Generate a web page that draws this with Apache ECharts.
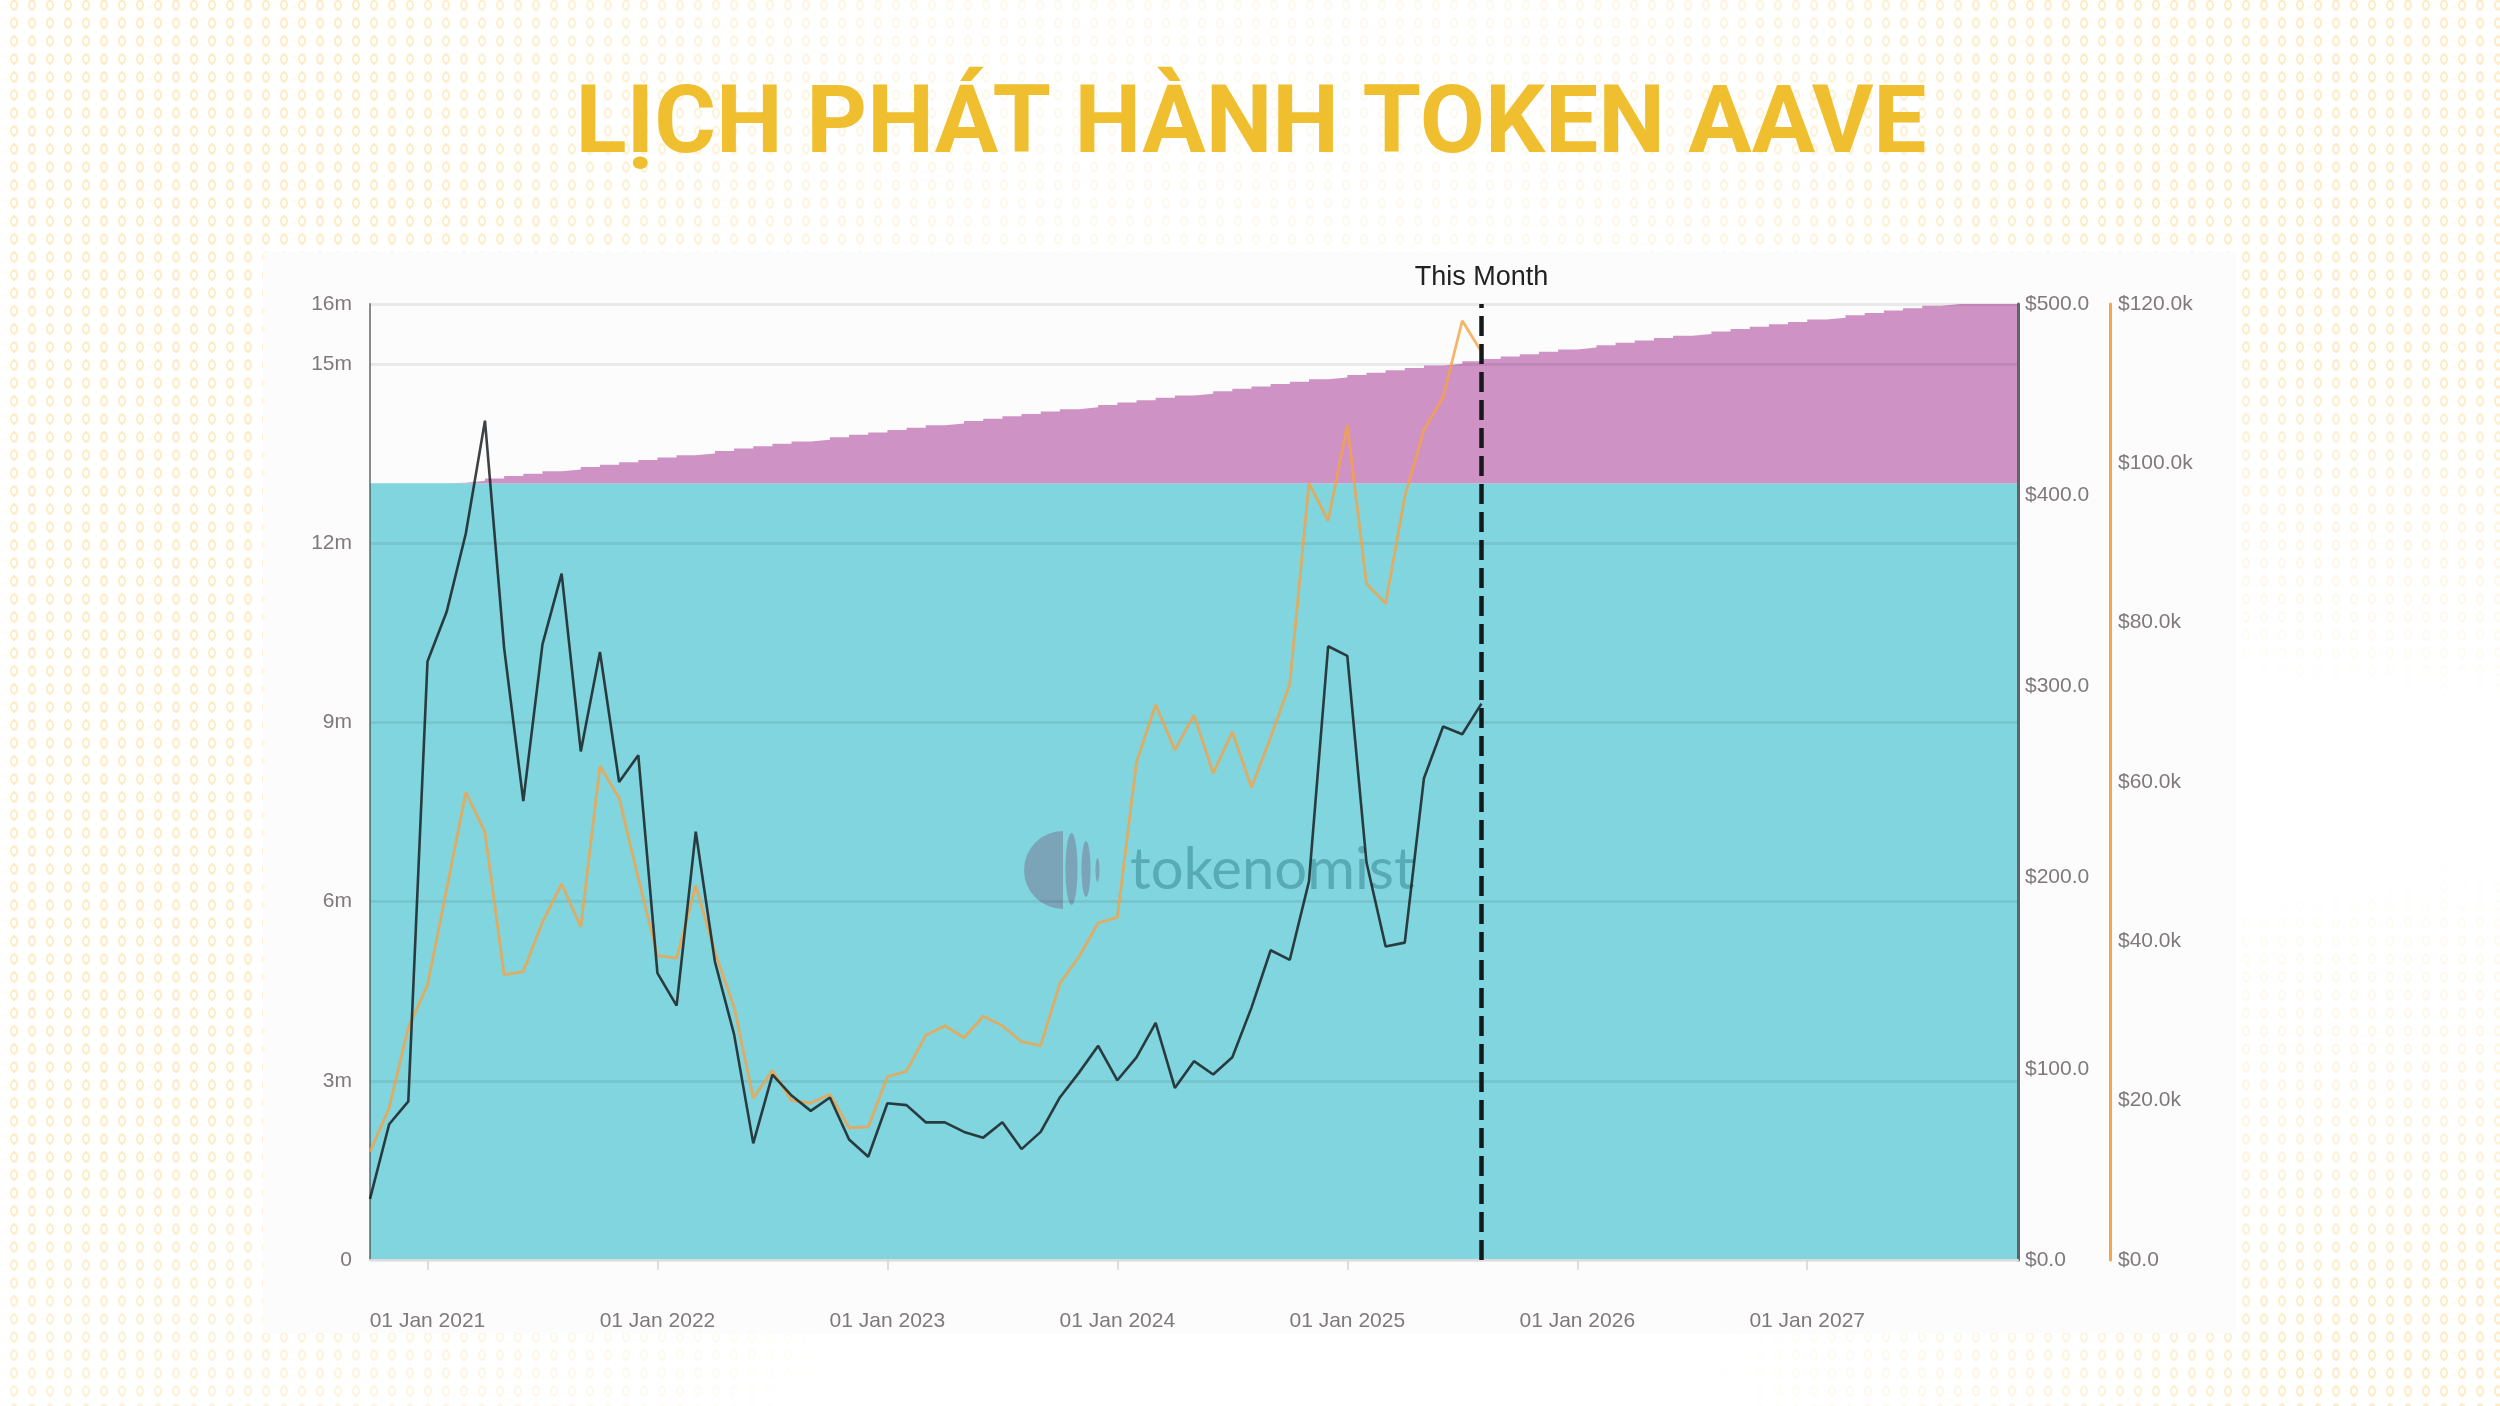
<!DOCTYPE html>
<html>
<head>
<meta charset="utf-8">
<title>Lich phat hanh token AAVE</title>
<script src="https://cdn.jsdelivr.net/npm/echarts@6/dist/echarts.min.js"></script>
<style>
    html, body { margin: 0; padding: 0; background: #fff; }
    #dots {
        position: absolute; left: 0; top: 0; width: 2500px; height: 1406px;
        background-image: radial-gradient(ellipse 4px 6px at center, transparent 48%, #fdeec9 55%, #fdeec9 95%, transparent 100%);
        background-size: 18px 18px;
        background-position: 5px -4px;
        -webkit-mask-image:
            radial-gradient(ellipse 1050px 1500px at 0 500px, #000 45%, transparent 100%),
            radial-gradient(ellipse 1000px 620px at 2500px 100px, #000 45%, transparent 100%),
            radial-gradient(ellipse 800px 560px at 2500px 1406px, #000 25%, transparent 100%),
            linear-gradient(to bottom, rgba(0,0,0,0.3) 0, rgba(0,0,0,0.3) 260px, transparent 300px);
        mask-image:
            radial-gradient(ellipse 1050px 1500px at 0 500px, #000 45%, transparent 100%),
            radial-gradient(ellipse 1000px 620px at 2500px 100px, #000 45%, transparent 100%),
            radial-gradient(ellipse 800px 560px at 2500px 1406px, #000 25%, transparent 100%),
            linear-gradient(to bottom, rgba(0,0,0,0.3) 0, rgba(0,0,0,0.3) 260px, transparent 300px);
    }
    #chart { position: absolute; left: 0; top: 0; width: 2500px; height: 1406px; }
</style>
</head>
<body>
<div id="dots"></div>
<div id="chart"></div>
<script>
    var titleText = 'LỊCH PHÁT HÀNH TOKEN AAVE';

    // one point per month, Oct 2020 .. Dec 2027
    var years = [2021, 2022, 2023, 2024, 2025, 2026, 2027];
    var monthNames = ['Jan','Feb','Mar','Apr','May','Jun','Jul','Aug','Sep','Oct','Nov','Dec'];
    var categories = ['01 Oct 2020', '01 Nov 2020', '01 Dec 2020'];
    years.forEach(function (y) {
        monthNames.forEach(function (m) { categories.push('01 ' + m + ' ' + y); });
    });

    // teal block, million tokens
    var unlockedBase = [
        13,13,13,13,13,13,13,13,13,13,13,13,13,13,13,13,13,13,13,13,13,13,13,13,13,13,13,13,13,
        13,13,13,13,13,13,13,13,13,13,13,13,13,13,13,13,13,13,13,13,13,13,13,13,13,13,13,13,13,
        13,13,13,13,13,13,13,13,13,13,13,13,13,13,13,13,13,13,13,13,13,13,13,13,13,13,13,13,13
    ];
    // pink block on top of it
    var reserveUnlock = [
        0,0,0,0,0.01,0.04,0.08,0.12,0.16,0.20,0.23,0.27,0.31,0.35,0.39,0.43,0.47,0.50,0.54,0.58,
        0.62,0.66,0.70,0.73,0.77,0.81,0.85,0.89,0.93,0.97,1.00,1.04,1.08,1.12,1.16,1.20,1.24,1.27,1.31,1.35,
        1.39,1.43,1.47,1.50,1.54,1.58,1.62,1.66,1.70,1.74,1.77,1.81,1.85,1.89,1.93,1.97,2.00,2.04,2.08,2.12,
        2.16,2.20,2.24,2.27,2.31,2.35,2.39,2.43,2.47,2.50,2.54,2.58,2.62,2.66,2.70,2.74,2.77,2.81,2.85,2.89,
        2.93,2.97,3.00,3.00,3.00,3.00,3.00
    ];
    // AAVE price, $ axis
    var aavePrice = [
        32,71,83,313,339,380,439,320,240,322,359,266,318,250,264,150,133,224,156,118,
        61,97,86,78,85,63,54,82,81,72,72,67,64,72,58,67,85,98,112,94,
        106,124,90,104,97,106,132,162,157,198,321,316,208,164,166,252,279,275,291
    ];
    // BTC price, $k axis
    var btcPrice = [
        13600,19100,29200,34500,46500,58700,53700,35800,36200,42400,47200,41800,62000,58000,47900,38200,37900,47000,38600,31800,
        20300,23800,20000,19700,20800,16600,16700,23000,23700,28200,29400,27900,30600,29400,27400,26900,34700,38100,42300,43000,
        62500,69700,64000,68400,61100,66300,59300,65600,72300,97500,92800,104800,84900,82400,95800,104200,108300,117900,114000
    ];

    var thisMonth = '01 Aug 2025';

    var myChart = echarts.init(document.getElementById('chart'), null, { renderer: 'canvas' });

    var labelStyle = { color: '#7f797b', fontSize: 21, fontFamily: '"Liberation Sans", Arial, sans-serif' };

    function isJanuary(index, value) {
        return value.indexOf(' Jan ') > 0;
    }

    var option = {
        backgroundColor: 'transparent',
        animation: false,
        title: {
            text: titleText,
            left: 1246,
            top: 76,
            textAlign: 'center',
            textStyle: { color: '#f0bf2f', fontSize: 94.5, fontWeight: 'bold', fontFamily: 'Roboto, sans-serif' }
        },
        grid: { left: 370, right: 482, top: 304, bottom: 146 },
        xAxis: {
            type: 'category',
            data: categories,
            boundaryGap: false,
            axisLine: { lineStyle: { color: '#dcdcdc', width: 2 } },
            axisTick: { interval: isJanuary, length: 10, lineStyle: { color: '#d4d4d4', width: 1.5 } },
            axisLabel: Object.assign({ interval: isJanuary, margin: 51 }, labelStyle),
            z: 3
        },
        yAxis: [{
            type: 'value',
            min: 0,
            max: 16,
            interval: 3,
            z: 3,
            axisLine: { show: true, lineStyle: { color: 'rgba(70,80,85,0.65)', width: 2 } },
            axisTick: { show: false },
            splitLine: { show: true, lineStyle: { color: 'rgba(0,0,0,0.075)', width: 3 } },
            axisLabel: Object.assign({
                margin: 18,
                padding: [0, 0, 2, 0],
                formatter: function (v) { return v === 0 ? '0' : v + 'm'; }
            }, labelStyle)
        }, {
            type: 'value',
            position: 'right',
            min: 0,
            max: 500,
            interval: 100,
            z: 3,
            axisLine: { show: true, lineStyle: { color: '#5f6468', width: 3 } },
            axisTick: { show: false },
            splitLine: { show: false },
            axisLabel: Object.assign({
                margin: 7,
                padding: [0, 0, 2, 0],
                formatter: function (v) { return '$' + v.toFixed(1); }
            }, labelStyle)
        }, {
            type: 'value',
            position: 'right',
            offset: 92,
            min: 0,
            max: 120000,
            interval: 20000,
            z: 3,
            axisLine: { show: true, lineStyle: { color: '#f4a64a', width: 3 } },
            axisTick: { show: false },
            splitLine: { show: false },
            axisLabel: Object.assign({
                margin: 8,
                padding: [0, 0, 2, 0],
                formatter: function (v) { return v === 0 ? '$0.0' : '$' + (v / 1000).toFixed(1) + 'k'; }
            }, labelStyle)
        }],
        graphic: [
            { type: 'rect', z: -1, silent: true, shape: { x: 263, y: 252, width: 1973, height: 1081 }, style: { fill: '#fcfcfc' } },
            { type: 'sector', z: 3, silent: true, shape: { cx: 1063, cy: 870, r: 39, r0: 0, startAngle: Math.PI / 2, endAngle: Math.PI * 1.5 }, style: { fill: '#7ca4b9' } },
            { type: 'ellipse', z: 3, silent: true, shape: { cx: 1071.5, cy: 869, rx: 6, ry: 36 }, style: { fill: '#7ca4b9' } },
            { type: 'ellipse', z: 3, silent: true, shape: { cx: 1086, cy: 869, rx: 4.5, ry: 28 }, style: { fill: '#7ca4b9' } },
            { type: 'ellipse', z: 3, silent: true, shape: { cx: 1097.5, cy: 870, rx: 2, ry: 12 }, style: { fill: '#7ca4b9' } },
            { type: 'text', z: 3, silent: true, x: 1130, y: 899, style: { text: 'tokenomist', fill: '#58abb4', fontSize: 58, fontFamily: 'Lato, sans-serif', verticalAlign: 'bottom', align: 'left' } }
        ],
        series: [{
            name: 'Unlocked',
            type: 'line',
            stack: 'supply',
            step: 'end',
            yAxisIndex: 0,
            symbol: 'none',
            lineStyle: { width: 0 },
            areaStyle: { color: '#81d5de', opacity: 1 },
            data: unlockedBase,
            z: 2
        }, {
            name: 'Ecosystem Reserve',
            type: 'line',
            stack: 'supply',
            step: 'end',
            yAxisIndex: 0,
            symbol: 'none',
            lineStyle: { width: 0 },
            areaStyle: { color: '#cf92c4', opacity: 1 },
            data: reserveUnlock,
            z: 2
        }, {
            name: 'BTC',
            type: 'line',
            yAxisIndex: 2,
            symbol: 'none',
            lineStyle: { color: '#f5a343', width: 2.8, opacity: 0.8 },
            data: btcPrice,
            z: 4
        }, {
            name: 'AAVE',
            type: 'line',
            yAxisIndex: 1,
            symbol: 'none',
            lineStyle: { color: '#15191c', width: 2.6, opacity: 0.82 },
            data: aavePrice,
            z: 4,
            markLine: {
                silent: true,
                symbol: 'none',
                animation: false,
                lineStyle: { color: '#15191c', width: 4.5, type: [20, 8], opacity: 1 },
                label: {
                    show: true,
                    position: 'end',
                    distance: 13,
                    formatter: 'This Month',
                    color: '#222',
                    fontSize: 27,
                    fontFamily: '"Liberation Sans", Arial, sans-serif'
                },
                data: [{ xAxis: thisMonth }]
            }
        }]
    };

    myChart.setOption(option);
</script>
</body>
</html>
